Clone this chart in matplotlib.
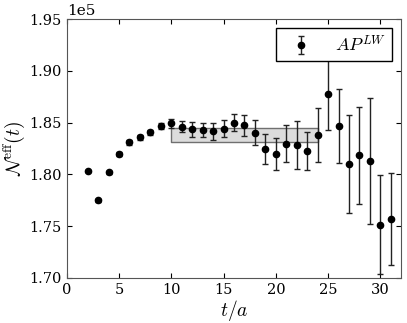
import matplotlib
matplotlib.use("Agg")
import matplotlib.pyplot as plt
import numpy as np

plt.rcParams['font.family'] = ['DejaVu Serif']
plt.rcParams['mathtext.fontset'] = 'cm'

t = [2, 3, 4, 5, 6, 7, 8, 9, 10, 11, 12, 13, 14, 15, 16, 17, 18, 19, 20,
     21, 22, 23, 24, 25, 26, 27, 28, 29, 30, 31]
neff = [180340, 177480, 180190, 181950, 183080, 183570, 184050, 184660,
        184920, 184600, 184340, 184270, 184150, 184400, 184980, 184730,
        184000, 182410, 181950, 182950, 182820, 182240, 183820, 187720,
        184660, 180990, 181830, 181280, 175120, 175700]
err = [100, 120, 150, 180, 280, 250, 220, 280, 400, 560, 720, 700, 840,
       800, 800, 1000, 1200, 1450, 1580, 1770, 2300, 1800, 2600, 3450,
       3600, 4700, 4700, 6060, 4770, 4470]
fit_t = [10, 24]
fit_lo = 183080
fit_hi = 184470
label = r'$AP^{LW}$'

fig = plt.figure(figsize=(4.07, 3.23), dpi=100)
ax = fig.add_axes([0.164, 0.140, 0.822, 0.801])

ax.fill_between(fit_t, [fit_lo, fit_lo], [fit_hi, fit_hi],
                facecolor='#dcdcdc', edgecolor='#707070', linewidth=1.0, zorder=1)
ax.errorbar(t, neff, yerr=err, fmt='o', color='black', ecolor='#222222',
            markersize=4.5, elinewidth=1.0, capsize=2.5, capthick=1.0,
            label=label, zorder=3)

ax.set_xlim(0, 32)
ax.set_ylim(170000, 195000)
ax.set_xticks([0, 5, 10, 15, 20, 25, 30])
ax.set_yticks(np.arange(170000, 195001, 5000))
ax.ticklabel_format(axis='y', style='sci', scilimits=(5, 5))
ax.tick_params(direction='in', top=True, right=True, labelsize=10.5)
ax.yaxis.get_offset_text().set_fontsize(11)
for s in ax.spines.values():
    s.set_color('#555555')

ax.set_xlabel(r'$t/a$', fontsize=14, labelpad=1)
ax.set_ylabel(r'$\mathcal{N}^{\mathrm{eff}}(t)$', fontsize=14, labelpad=2)

leg = ax.legend(loc='upper right', fontsize=13, frameon=True, fancybox=False,
                handlelength=2.0, borderpad=0.35, handletextpad=0.9,
                borderaxespad=0.5)
leg.set_zorder(10)
leg.get_frame().set_edgecolor('black')
leg.get_frame().set_linewidth(1.0)
leg.get_frame().set_alpha(1.0)

fig.savefig('out.png', dpi=100)
